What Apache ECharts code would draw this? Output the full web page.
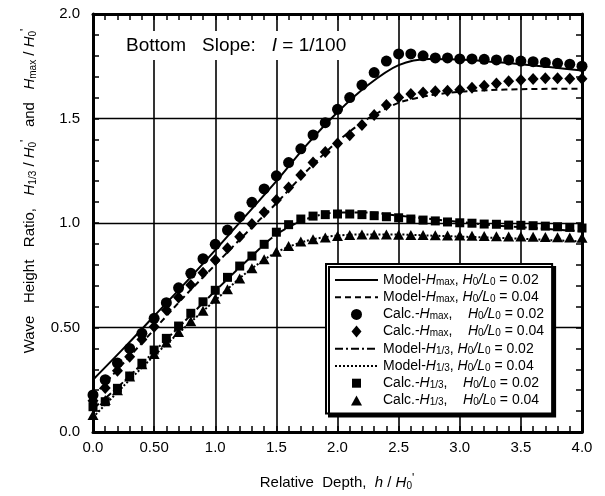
<!DOCTYPE html>
<html><head><meta charset="utf-8">
<script src="https://cdn.jsdelivr.net/npm/echarts@6/dist/echarts.min.js"></script>
<style>html,body{margin:0;padding:0;background:#fff}#c{width:605px;height:496px}</style>
</head><body><div id="c"></div>
<script>
// ---- data ----
const xCalc = [0.0,0.1,0.2,0.3,0.4,0.5,0.6,0.7,0.8,0.9,1.0,1.1,1.2,1.3,1.4,1.5,1.6,1.7,1.8,1.9,2.0,2.1,2.2,2.3,2.4,2.5,2.6,2.7,2.8,2.9,3.0,3.1,3.2,3.3,3.4,3.5,3.6,3.7,3.8,3.9,4.0];
const calcHmax002 = [0.177,0.25,0.33,0.40,0.472,0.544,0.619,0.69,0.759,0.829,0.898,0.966,1.03,1.099,1.163,1.226,1.289,1.355,1.421,1.48,1.544,1.60,1.66,1.72,1.775,1.809,1.809,1.80,1.79,1.79,1.785,1.785,1.783,1.78,1.78,1.775,1.772,1.768,1.764,1.76,1.75];
const calcHmax004 = [0.15,0.21,0.293,0.36,0.443,0.504,0.584,0.643,0.703,0.762,0.823,0.879,0.934,0.995,1.051,1.11,1.17,1.23,1.29,1.34,1.38,1.42,1.469,1.517,1.565,1.60,1.617,1.625,1.63,1.633,1.638,1.647,1.657,1.668,1.678,1.684,1.689,1.692,1.692,1.69,1.69];
const calcH13_002 = [0.121,0.145,0.209,0.268,0.329,0.392,0.448,0.507,0.568,0.623,0.678,0.74,0.794,0.842,0.898,0.956,0.992,1.019,1.033,1.04,1.043,1.043,1.04,1.035,1.03,1.025,1.019,1.014,1.01,1.005,1.001,0.999,0.995,0.994,0.99,0.989,0.987,0.985,0.982,0.979,0.976];
const calcH13_004 = [0.081,0.153,0.20,0.265,0.324,0.373,0.428,0.478,0.53,0.58,0.638,0.683,0.735,0.783,0.826,0.863,0.89,0.911,0.922,0.931,0.938,0.943,0.945,0.945,0.945,0.944,0.943,0.942,0.941,0.94,0.94,0.939,0.938,0.937,0.936,0.935,0.934,0.933,0.932,0.931,0.93];
const xModel = [0.0,0.25,0.5,0.75,1.0,1.25,1.5,1.75,2.0,2.25,2.5,2.75,3.0,3.25,3.5,3.75,4.0];
const modelHmax002 = [0.25,0.40,0.555,0.71,0.87,1.035,1.20,1.375,1.53,1.66,1.755,1.785,1.782,1.772,1.76,1.745,1.73];
const modelHmax004 = [0.17,0.33,0.49,0.65,0.80,0.95,1.095,1.25,1.39,1.50,1.575,1.61,1.628,1.636,1.64,1.642,1.642];
const modelH13_002 = [0.11,0.24,0.385,0.53,0.675,0.815,0.945,1.02,1.05,1.05,1.035,1.02,1.005,0.99,0.98,0.97,0.96];
const modelH13_004 = [0.07,0.22,0.365,0.50,0.63,0.76,0.86,0.915,0.94,0.945,0.945,0.94,0.935,0.93,0.925,0.918,0.912];
const xTickLabels = ['0.0','0.50','1.0','1.5','2.0','2.5','3.0','3.5','4.0'];
const yTickLabels = ['0.0','0.50','1.0','1.5','2.0'];
const seriesNames = ['mh2','mh4','ch2','ch4','m32','m34','c32','c34'];
const legendLabels = {
  mh2: 'Model-{i|H}{s|max}, {i|H}{s|0}{i|/L}{s|0} = 0.02',
  mh4: 'Model-{i|H}{s|max}, {i|H}{s|0}{i|/L}{s|0} = 0.04',
  ch2: 'Calc.-{i|H}{s|max},    {i|H}{s|0}{i|/L}{s|0} = 0.02',
  ch4: 'Calc.-{i|H}{s|max},    {i|H}{s|0}{i|/L}{s|0} = 0.04',
  m32: 'Model-{i|H}{s|1/3}, {i|H}{s|0}{i|/L}{s|0} = 0.02',
  m34: 'Model-{i|H}{s|1/3}, {i|H}{s|0}{i|/L}{s|0} = 0.04',
  c32: 'Calc.-{i|H}{s|1/3},    {i|H}{s|0}{i|/L}{s|0} = 0.02',
  c34: 'Calc.-{i|H}{s|1/3},    {i|H}{s|0}{i|/L}{s|0} = 0.04'
};
const titleText = 'Bottom   Slope:   {i|I} = 1/100';
const xTitle = 'Relative  Depth,  {i|h} / {i|H}{sub|0}{sup|\'}';
const yTitle = 'Wave   Height   Ratio,   {i|H}{sub|1/3} / {i|H}{sub|0}{sup|\'}   and   {i|H}{sub|max} / {i|H}{sub|0}{sup|\'}';

// ---- chart ----
const FONT = '"Liberation Sans", Arial, Helvetica, sans-serif';
const zip = (xs, ys) => xs.map((x, i) => [x, ys[i]]);
const chart = echarts.init(document.getElementById('c'), null, {renderer: 'canvas'});

const axisCommon = (isX, show) => ({
  type: 'value',
  min: 0, max: isX ? 4 : 2, interval: 0.5,
  axisLine: {show: true, onZero: false, lineStyle: {color: '#000', width: 3}},
  axisTick: {show: true, inside: true, length: 6, lineStyle: {color: '#000', width: 1.5}},
  minorTick: {show: true, splitNumber: 5, length: 6, lineStyle: {color: '#000', width: 1.5}},
  splitLine: {show: show, lineStyle: {color: '#000', width: isX ? 1.6 : 1.3}},
  minorSplitLine: {show: false}
});

const richTitle = {
  i: {fontStyle: 'italic', fontSize: 15, fontFamily: FONT, fill: '#000', color: '#000'},
  sub: {fontSize: 10, fontFamily: FONT, padding: [7, 0, 0, 0], color: '#000', fill: '#000'},
  sup: {fontSize: 12, fontFamily: FONT, padding: [0, 0, 8, 0], color: '#000', fill: '#000'}
};

const lineSeries = (name, data, dash) => ({
  name, type: 'line', data: zip(xModel, data), symbol: 'none', smooth: 0.3,
  lineStyle: {color: '#000', width: 2, type: dash},
  itemStyle: {color: '#000'}, z: 3
});
const scatterSeries = (name, data, symbol, size) => ({
  name, type: 'scatter', data: zip(xCalc, data), symbol, symbolSize: size,
  itemStyle: {color: '#000', opacity: 1}, z: 4
});

const hideSym = {color: 'rgba(0,0,0,0)', opacity: 0, borderWidth: 0};
const option = {
  animation: false,
  backgroundColor: '#fff',
  textStyle: {fontFamily: FONT},
  grid: {left: 93, right: 23, top: 14, bottom: 64, containLabel: false},
  xAxis: [
    Object.assign(axisCommon(true, true), {position: 'bottom',
      axisLabel: {show: true, margin: 8, color: '#000', fontSize: 15, fontFamily: FONT,
        formatter: v => xTickLabels[Math.round(v / 0.5)]}}),
    Object.assign(axisCommon(true, false), {position: 'top', axisLabel: {show: false}})
  ],
  yAxis: [
    Object.assign(axisCommon(false, true), {position: 'left',
      axisLabel: {show: true, margin: 13, color: '#000', fontSize: 15, fontFamily: FONT,
        formatter: v => yTickLabels[Math.round(v / 0.5)]}}),
    Object.assign(axisCommon(false, false), {position: 'right', axisLabel: {show: false}})
  ],
  legend: {
    orient: 'vertical', left: 326, top: 264,
    data: [
      {name: 'mh2', itemStyle: hideSym},
      {name: 'mh4', itemStyle: hideSym},
      {name: 'ch2', icon: 'path://M0,0M12,12M6,0.5A5.5,5.5,0,1,1,5.99,0.5Z'},
      {name: 'ch4', icon: 'path://M0,0M12,12M6,0L11,6L6,12L1,6Z'},
      {name: 'm32', itemStyle: hideSym},
      {name: 'm34', itemStyle: hideSym},
      {name: 'c32', icon: 'path://M0,0M12,12M1.5,1.5L10.5,1.5L10.5,10.5L1.5,10.5Z'},
      {name: 'c34', icon: 'path://M0,0M12,12M6,1L11.5,11L0.5,11Z'}
    ],
    symbolKeepAspect: true,
    padding: [9, 8, 6, 8], itemGap: 3.2, itemWidth: 43, itemHeight: 12,
    backgroundColor: '#fff', borderColor: '#000', borderWidth: 2, borderRadius: 0,
    shadowColor: '#000', shadowOffsetX: 3, shadowOffsetY: 3, shadowBlur: 0.01,
    formatter: n => legendLabels[n],
    textStyle: {fontFamily: FONT, fontSize: 14, color: '#000', lineHeight: 14,
      rich: {
        i: {fontStyle: 'italic', fontSize: 14, fontFamily: FONT, color: '#000', lineHeight: 14},
        s: {fontSize: 10, fontFamily: FONT, color: '#000', lineHeight: 10, padding: [4, 0, 0, 0]}
      }},
    selectedMode: false
  },
  graphic: [
    {type: 'rect', shape: {x: 116, y: 31, width: 250, height: 29}, style: {fill: '#fff'}, z: 10},
    {type: 'text', x: 126, y: 46, z: 11,
      style: {text: titleText, fontSize: 19, fontFamily: FONT, fill: '#000',
        align: 'left', verticalAlign: 'middle', textAlign: 'left', textVerticalAlign: 'middle',
        rich: {i: {fontStyle: 'italic', fontSize: 19, fontFamily: FONT, fill: '#000'}}}},
    {type: 'text', x: 337, y: 483, z: 11,
      style: {text: xTitle, fontSize: 15, fontFamily: FONT, fill: '#000',
        align: 'center', verticalAlign: 'middle', textAlign: 'center', textVerticalAlign: 'middle', rich: richTitle}},
    {type: 'text', x: 30, y: 191, rotation: Math.PI / 2, z: 11,
      style: {text: yTitle, fontSize: 15, fontFamily: FONT, fill: '#000',
        align: 'center', verticalAlign: 'middle', textAlign: 'center', textVerticalAlign: 'middle', rich: richTitle}}
  ],
  series: [
    lineSeries('mh2', modelHmax002, 'solid'),
    lineSeries('mh4', modelHmax004, [6, 4]),
    scatterSeries('ch2', calcHmax002, 'circle', 11),
    scatterSeries('ch4', calcHmax004, 'diamond', [11, 12]),
    lineSeries('m32', modelH13_002, [8, 3, 2, 3]),
    lineSeries('m34', modelH13_004, [2, 2]),
    scatterSeries('c32', calcH13_002, 'rect', 9),
    scatterSeries('c34', calcH13_004, 'triangle', [11, 10])
  ]
};
chart.setOption(option);
</script>
</body></html>
